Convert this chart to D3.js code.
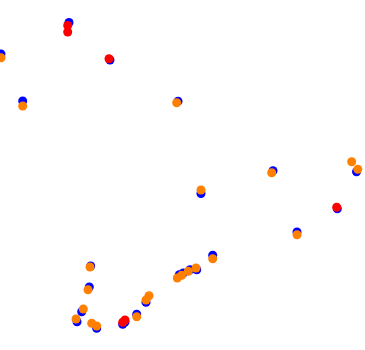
<!DOCTYPE html>
<html>
<head>
<meta charset="utf-8">
<script src="https://cdn.jsdelivr.net/npm/d3@7"></script>
<style>
  body { margin: 0; background: #fff; }
</style>
</head>
<body>
<script>
// point data (x, y in plot units)
var blueX = [69, 1, 110, 22.7, 178, 201, 273, 356.5, 337.3, 297, 212.7, 90.7, 179.3, 183.3, 190, 196.7, 89.3, 146, 136.7, 81.7, 77, 96.7, 122.7, 125];
var blueY = [22.5, 54, 60, 101, 101.3, 193.5, 170.7, 171.7, 208.7, 232, 255.3, 266, 274.7, 273, 269.7, 269.7, 287, 302.3, 314.3, 311.7, 321.7, 328.3, 324.3, 322];

var orangeX = [1, 22.7, 176.7, 201, 271.7, 351.7, 357.8, 297, 212.7, 90, 177.3, 181.7, 188.3, 196, 88, 146, 149, 136.7, 83.3, 76, 91.7, 96.7];
var orangeY = [57.7, 106, 102.7, 190, 172.7, 161.7, 169.3, 234.7, 258.7, 267, 278, 275.3, 271.3, 268, 289.7, 300, 295.7, 316.7, 309, 319, 323.3, 326];

var redX = [67.7, 67.7, 109, 336.7, 125, 122.7];
var redY = [25.5, 32, 58.7, 207.3, 320, 322.3];

//Width and height
var w = 365;
var h = 350;

var x = d3.scaleLinear().domain([0, 365]).range([0, w]);
var y = d3.scaleLinear().domain([0, 350]).range([0, h]);

var svg = d3.select("body")
            .append("svg")
            .attr("width", w)
            .attr("height", h);

function drawSeries(xs, ys, color, r) {
  svg.append("g")
     .selectAll("circle")
     .data(xs.map(function(d, i) { return [d, ys[i]]; }))
     .enter()
     .append("circle")
     .attr("cx", function(d) { return x(d[0]); })
     .attr("cy", function(d) { return y(d[1]); })
     .attr("r", r)
     .style("fill", color);
}

drawSeries(blueX, blueY, "#0000ff", 4.5);
drawSeries(orangeX, orangeY, "#ff8000", 4.5);
drawSeries(redX, redY, "#ff0000", 4.5);
</script>
</body>
</html>
